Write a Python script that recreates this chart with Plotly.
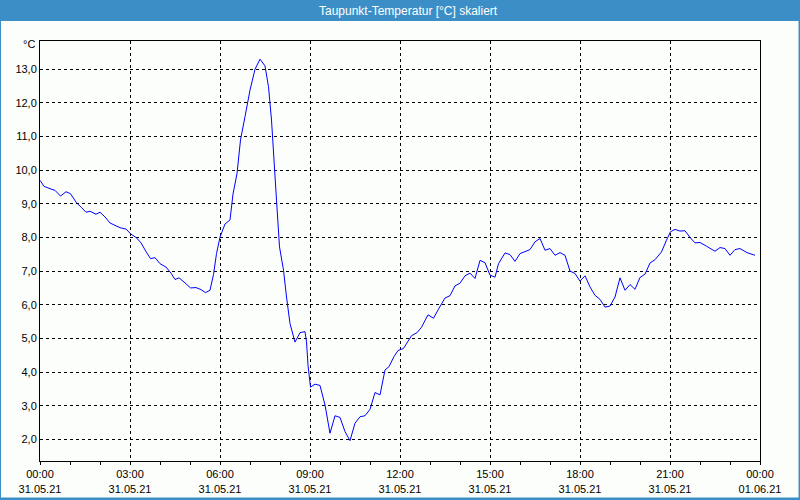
import plotly.graph_objects as go

DAY = "2021-05-31"
times = ["00:00","00:08","00:20","00:30","00:41","00:52","01:01","01:13","01:23","01:32",
         "01:40","01:52","02:00","02:10","02:20","02:30","02:40","02:52","03:01","03:13",
         "03:22","03:32","03:41","03:50","04:00","04:12","04:22","04:30","04:38","04:50",
         "05:01","05:12","05:22","05:31","05:40","05:47","05:53","06:00","06:10","06:20",
         "06:26","06:34","06:41","06:50","07:00","07:10","07:20","07:30","07:37","07:43",
         "07:48","07:53","07:59","08:07","08:13","08:20","08:30","08:40","08:50","08:53",
         "08:56","09:01","09:10","09:20","09:30","09:40","09:50","10:00","10:10","10:20",
         "10:30","10:40","10:50","11:00","11:10","11:20","11:30","11:38","11:48","11:56",
         "12:07","12:13","12:23","12:34","12:43","12:56","13:07","13:17","13:30","13:40",
         "13:50","14:00","14:10","14:20","14:30","14:40","14:50","15:00","15:10","15:17",
         "15:30","15:40","15:50","16:00","16:10","16:20","16:30","16:40","16:50","17:00",
         "17:10","17:20","17:30","17:40","17:50","18:00","18:10","18:20","18:30","18:40",
         "18:50","19:00","19:10","19:20","19:30","19:40","19:50","20:00","20:10","20:20",
         "20:30","20:43","20:53","21:01","21:10","21:20","21:30","21:40","21:50","22:00",
         "22:13","22:30","22:40","22:50","23:00","23:10","23:20","23:34","23:50"]
dewpoint = [9.70,9.52,9.45,9.40,9.23,9.36,9.30,9.03,8.89,8.75,
            8.78,8.69,8.75,8.61,8.43,8.35,8.29,8.25,8.11,7.99,
            7.84,7.58,7.37,7.40,7.22,7.12,6.94,6.75,6.80,6.65,
            6.50,6.51,6.45,6.36,6.43,6.90,7.52,8.01,8.40,8.52,
            9.29,9.90,10.90,11.59,12.38,13.00,13.30,13.10,12.48,11.49,
            10.10,9.11,7.72,7.03,6.23,5.44,4.89,5.17,5.20,4.90,
            4.20,3.55,3.64,3.60,3.02,2.18,2.70,2.65,2.23,1.96,
            2.48,2.67,2.70,2.89,3.39,3.32,4.06,4.16,4.46,4.64,
            4.70,4.83,5.08,5.17,5.33,5.70,5.60,5.87,6.20,6.27,
            6.56,6.64,6.86,6.94,6.78,7.32,7.25,6.88,6.82,7.22,
            7.54,7.49,7.29,7.52,7.59,7.64,7.87,7.97,7.62,7.67,
            7.47,7.55,7.47,7.00,6.93,6.70,6.86,6.53,6.28,6.16,
            5.93,5.96,6.23,6.80,6.43,6.60,6.46,6.81,6.91,7.24,
            7.34,7.57,7.92,8.17,8.24,8.19,8.20,8.00,7.84,7.85,
            7.74,7.59,7.70,7.67,7.47,7.64,7.67,7.55,7.47]

tick_times = ["2021-05-31 00:00","2021-05-31 03:00","2021-05-31 06:00","2021-05-31 09:00",
              "2021-05-31 12:00","2021-05-31 15:00","2021-05-31 18:00","2021-05-31 21:00",
              "2021-06-01 00:00"]
tick_labels = ["00:00<br>31.05.21","03:00<br>31.05.21","06:00<br>31.05.21","09:00<br>31.05.21",
               "12:00<br>31.05.21","15:00<br>31.05.21","18:00<br>31.05.21","21:00<br>31.05.21",
               "00:00<br>01.06.21"]
y_ticks = [2,3,4,5,6,7,8,9,10,11,12,13]

x = [f"{DAY} {t}" for t in times]

BG = "#fcfefc"
BAR = "#3c8fc6"
FONT = "Liberation Sans"
W, H = 720, 420  # plot area in px

def px(xp):
    return (xp - 40) / W

def py(yp):
    return (461 - yp) / H

fig = go.Figure()
fig.add_trace(go.Scatter(x=x, y=dewpoint, mode="lines",
                         line=dict(color="#0000ff", width=1), hoverinfo="skip"))

fig.update_layout(
    width=800, height=500,
    margin=dict(l=40, r=40, t=41, b=39, autoexpand=False),
    paper_bgcolor=BG, plot_bgcolor=BG,
    showlegend=False,
    separators=",.",
    font=dict(family=FONT, size=11, color="#000000"),
    xaxis=dict(
        automargin=False,
        range=["2021-05-31 00:00", "2021-06-01 00:00"],
        tickvals=tick_times, ticktext=tick_labels,
        ticks="outside", ticklen=3, tickcolor="#000000", tickwidth=1,
        minor=dict(dtick=3600000, ticks="outside", ticklen=3, tickcolor="#000000", showgrid=False),
        showgrid=True, gridcolor="#000000", gridwidth=1, griddash="3px,3px",
        showline=True, linecolor="#000000", linewidth=1, mirror=True,
        zeroline=False, tickfont=dict(family=FONT, size=11, color="#000000"),
    ),
    yaxis=dict(
        automargin=False,
        range=[1.355, 13.84],
        tickvals=y_ticks, tickformat=".1f",
        ticks="", showgrid=True, gridcolor="#000000", gridwidth=1, griddash="3px,3px",
        showline=True, linecolor="#000000", linewidth=1, mirror=True,
        zeroline=False, tickfont=dict(family=FONT, size=11, color="#000000"),
    ),
    shapes=[
        dict(type="rect", xref="paper", yref="paper", x0=px(-5), x1=px(805),
             y0=py(21), y1=py(-5),
             fillcolor=BAR, line=dict(width=0), layer="above"),
        dict(type="line", xref="paper", yref="paper", x0=px(0), x1=px(0),
             y0=py(505), y1=py(0), line=dict(color=BAR, width=2)),
        dict(type="line", xref="paper", yref="paper", x0=px(799.5), x1=px(799.5),
             y0=py(505), y1=py(0), line=dict(color=BAR, width=2)),
        dict(type="line", xref="paper", yref="paper", x0=px(-5), x1=px(805),
             y0=py(499), y1=py(499), line=dict(color=BAR, width=3)),
    ],
    annotations=[
        dict(text="Taupunkt-Temperatur [°C] skaliert", xref="paper", yref="paper",
             x=px(408), y=py(10.5), xanchor="center", yanchor="middle",
             showarrow=False, font=dict(family=FONT, size=12, color="#ffffff")),
        dict(text="°C", xref="paper", yref="paper",
             x=px(37), y=py(44.5), xanchor="right", yanchor="middle",
             showarrow=False, font=dict(family=FONT, size=11, color="#000000")),
    ],
)

fig.write_html("out.html")
